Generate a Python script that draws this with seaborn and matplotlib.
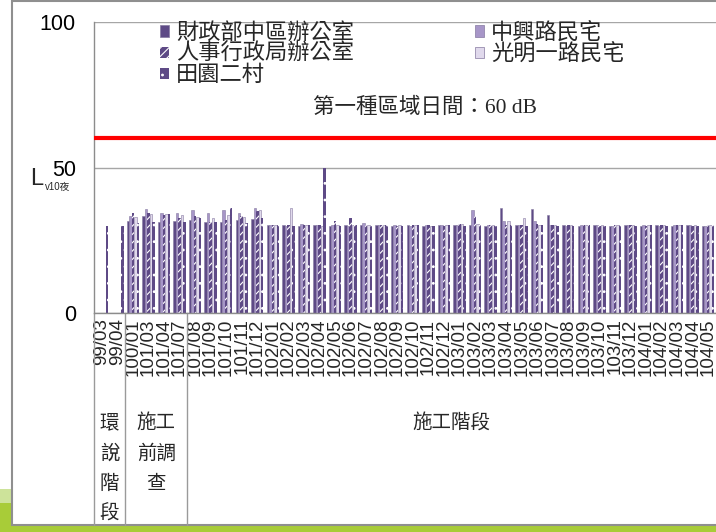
import matplotlib
matplotlib.use("Agg")
import matplotlib.pyplot as plt
import matplotlib.patches as mpatches
import matplotlib.transforms as mtransforms
import numpy as np
import pandas as pd
import seaborn as sns

# --- data ---
months = ["99/03", "99/04", "100/01", "101/03", "101/04", "101/07",
          "101/08", "101/09", "101/10", "101/11", "101/12",
          "102/01", "102/02", "102/03", "102/04", "102/05", "102/06",
          "102/07", "102/08", "102/09", "102/10", "102/11", "102/12",
          "103/01", "103/02", "103/03", "103/04", "103/05", "103/06",
          "103/07", "103/08", "103/09", "103/10", "103/11", "103/12",
          "104/01", "104/02", "104/03", "104/04", "104/05"]

stations = ["財政部中區辦公室", "中興路民宅", "人事行政局辦公室", "光明一路民宅", "田園二村"]

nan = np.nan
finance_office = [nan, nan, 31.7, 33.3, 31.4, 31.5, 32.0, 31.4, 31.4, 32.0, 32.2,
                  30.2, 30.1, 30.0, 30.2, 30.0, 30.3, 30.1, 30.2, 30.0, 30.1, 30.0,
                  30.2, 30.1, 30.2, 30.0, 36.0, 30.1, 35.6, 33.7, 30.1, 30.0, 30.2,
                  30.0, 30.1, 30.0, 30.2, 30.0, 30.1, 30.0]
zhongxing_road = [nan, nan, 33.3, 35.6, 34.3, 34.5, 35.4, 34.5, 35.4, 34.5, 36.2,
                  30.2, 30.0, 30.5, 30.3, 30.2, 30.0, 31.0, 30.2, 30.3, 30.0, 30.2,
                  30.3, 30.4, 35.4, 30.2, 31.6, 30.3, 31.6, 30.2, 30.0, 30.3, 30.2,
                  30.0, 30.1, 30.3, 30.0, 30.2, 30.1, 30.0]
personnel_office = [nan, nan, 34.3, 34.3, 33.7, 32.8, 33.3, 31.4, 32.0, 33.3, 35.1,
                    30.2, 30.1, 30.4, 30.2, 31.6, 32.8, 30.2, 30.1, 30.0, 30.2, 30.1,
                    30.0, 30.6, 33.3, 30.2, 30.4, 30.2, 30.5, 30.3, 30.1, 30.2, 30.0,
                    30.1, 30.2, 30.0, 30.1, 30.2, 30.0, 30.1]
guangming_road = [nan, nan, 32.9, 34.0, 34.0, 33.7, 33.1, 32.5, 33.7, 33.1, 35.4,
                  30.2, 36.0, 30.3, 30.0, 30.2, 30.3, 30.4, 30.2, 30.1, 30.3, 30.0,
                  30.2, 30.5, 30.6, 30.3, 31.6, 32.5, 30.4, 30.3, 30.2, 30.4, 30.1,
                  30.3, 30.2, 30.4, 30.1, 30.3, 30.2, 30.1]
tianyuan_village = [30.0, 30.0, 30.8, 31.4, 34.0, 31.4, 32.8, 31.4, 36.2, 31.0, 32.5,
                    30.2, 30.0, 30.2, 50.0, 30.0, 30.1, 30.0, 30.2, 30.0, 30.1, 30.0,
                    30.2, 30.0, 30.1, 30.0, 30.2, 30.0, 30.1, 30.0, 30.0, 30.1, 30.0,
                    30.2, 30.0, 30.1, 30.0, 30.2, 30.0, 30.1]

limit_value = 60
limit_text = "第一種區域日間：60 dB"

stage_names = ["環\n說\n階\n段", "施工\n前調\n查", "施工階段"]
stage_sizes = [2, 4, 34]

# --- styling ---
sns.set_style("white")
plt.rcParams["font.family"] = ["Liberation Sans", "Noto Sans CJK TC"]
plt.rcParams["hatch.linewidth"] = 0.8

dark = "#5e4a86"
bar_colors = [dark, "#a796c8", dark, "#e0d9ec", dark]
bar_hatch = [None, None, "////", None, ".."]

df = pd.DataFrame({
    "month": months * 5,
    "station": [s for s in stations for _ in months],
    "value": finance_office + zhongxing_road + personnel_office + guangming_road + tianyuan_village,
}).dropna()

W, H = 716, 532
fig = plt.figure(figsize=(W / 100, H / 100), dpi=100)
fig.patch.set_facecolor("white")

# slide decoration: green strip + chart frame
fig.patches.append(mpatches.Rectangle((0, 0), 1, 7 / H, transform=fig.transFigure,
                                      facecolor="#a8cc38", edgecolor="none", zorder=-3))
fig.patches.append(mpatches.Rectangle((0, 7 / H), 12 / W, 22 / H, transform=fig.transFigure,
                                      facecolor="#a8cc38", edgecolor="none", zorder=-3))
fig.patches.append(mpatches.Rectangle((0, 29 / H), 12 / W, 14 / H, transform=fig.transFigure,
                                      facecolor="#cde39a", edgecolor="none", zorder=-3))
fig.patches.append(mpatches.Rectangle((12 / W, 7 / H), 1.0, 524 / H, transform=fig.transFigure,
                                      facecolor="white", edgecolor="#8f8f8f", lw=1.5, zorder=-2))

ax = fig.add_axes([94 / W, 1 - 313 / H, 622 / W, 291 / H])
ax.set_facecolor("none")

sns.barplot(data=df, x="month", y="value", hue="station", order=months,
            hue_order=stations, palette=bar_colors, saturation=1, width=0.8,
            errorbar=None, legend=False, ax=ax, zorder=2)

for cont, col, hat in zip(ax.containers, bar_colors, bar_hatch):
    for p in cont:
        if hat:
            p.set_hatch(hat)
            p.set_edgecolor("white")
            p.set_linewidth(0)
        else:
            p.set_edgecolor("#8579a0")
            p.set_linewidth(0.4)

ax.axhline(limit_value, color="#ff0000", lw=3, zorder=3)
ax.text(0.532, 0.704, limit_text, transform=ax.transAxes, ha="center", va="center",
        fontsize=15.5, family=["Liberation Serif", "Noto Sans CJK TC"])

ax.set_ylim(0, 100)
ax.set_xlim(-0.5, len(months) - 0.5)
ax.set_yticks([0, 50, 100])
ax.yaxis.grid(True, color="#a6a6a6", lw=1)
ax.set_axisbelow(True)
ax.set_xlabel("")
ax.set_ylabel("")
for side in ["top", "right"]:
    ax.spines[side].set_visible(False)
for side in ["left", "bottom"]:
    ax.spines[side].set_color("#8c8c8c")
    ax.spines[side].set_linewidth(1)
ax.tick_params(axis="y", direction="out", length=5, width=1, color="#8c8c8c",
               pad=8, labelsize=15.5, labelcolor="black")
ax.tick_params(axis="x", length=0, pad=4, labelsize=13.5, labelrotation=90)

# y label: L with small subscript
fig.text(30 / W, 1 - 185 / H, "L", fontsize=17, va="baseline")
fig.text(45 / W, 1 - 190 / H, "v10夜", fontsize=7, va="baseline")

# legend
leg_order = [0, 2, 4, 1, 3]
handles = [mpatches.Patch(facecolor=bar_colors[i], hatch=bar_hatch[i],
                          edgecolor="white" if bar_hatch[i] else "#8579a0",
                          lw=0 if bar_hatch[i] else 0.5) for i in leg_order]
ax.legend(handles, [stations[i] for i in leg_order], ncol=2, frameon=False,
          loc="upper left", bbox_to_anchor=(160 / W, 1 - 21 / H),
          bbox_transform=fig.transFigure, borderpad=0, borderaxespad=0,
          handlelength=0.42, handleheight=0.42, handletextpad=0.3,
          labelspacing=-0.08, columnspacing=5.45,
          prop={"family": "Noto Sans CJK TC", "size": 16})

# stage table under the x axis
tr = mtransforms.blended_transform_factory(ax.transData, ax.transAxes)
table_bottom = -(525 - 313) / 291
edges = np.cumsum([0] + stage_sizes) - 0.5
for x in edges[:-1]:
    ax.plot([x, x], [0, table_bottom], transform=tr, color="#9a9a9a", lw=1, clip_on=False)
trf = mtransforms.blended_transform_factory(ax.transData, fig.transFigure)
for name, a, b in zip(stage_names, edges[:-1], edges[1:]):
    ax.text((a + b) / 2, 1 - 412 / H, name, transform=trf, ha="center", va="top",
            fontsize=14, linespacing=1.58, family="Noto Sans CJK TC")

fig.savefig("out.png", dpi=100)
